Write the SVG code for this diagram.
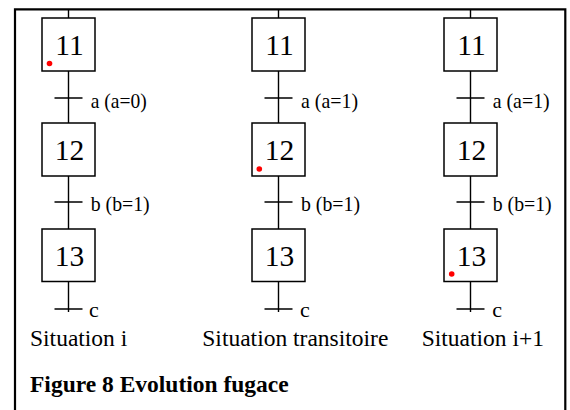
<svg xmlns="http://www.w3.org/2000/svg" width="570" height="410" viewBox="0 0 570 410">
<style>
.box{fill:#fff;stroke:#000;stroke-width:1.5}
.ln{stroke:#000;stroke-width:1.4;fill:none}
.num{font-family:"Liberation Serif","Times New Roman",serif;font-size:29.5px;text-anchor:middle;fill:#000}
.lbl{font-family:"Liberation Serif","Times New Roman",serif;font-size:22px;fill:#000}
.cap{font-family:"Liberation Serif","Times New Roman",serif;font-size:23.5px;fill:#000}
.title{font-family:"Liberation Serif","Times New Roman",serif;font-size:23.5px;font-weight:bold;fill:#000}
.dot{fill:#ff0000}
</style>
<rect width="570" height="410" fill="#fff"/>
<path d="M15,412 V9.3 H565.3 V412" fill="none" stroke="#000" stroke-width="2.2"/>
<g id="connectors">
<path class="ln" d="M68.5,9 V18 M68.5,71 V123 M68.5,176 V229 M68.5,281.5 V312 M54.5,98 H82.5 M54.5,202 H82.5 M54.5,309 H82.5"/>
<path class="ln" d="M278.5,9 V18 M278.5,71 V123 M278.5,176 V229 M278.5,281.5 V312 M264.5,98 H292.5 M264.5,202 H292.5 M264.5,309 H292.5"/>
<path class="ln" d="M470.5,9 V18 M470.5,71 V123 M470.5,176 V229 M470.5,281.5 V312 M456.5,98 H484.5 M456.5,202 H484.5 M456.5,309 H484.5"/>
</g>
<g id="c1-11"><rect class="box" x="42" y="18" width="53" height="53"/><text class="num" x="69.5" y="55">11</text><circle class="dot" cx="49.5" cy="63.5" r="2.8"/></g>
<g id="c1-12"><rect class="box" x="42" y="123" width="53" height="53"/><text class="num" x="69.5" y="159.5">12</text></g>
<g id="c1-13"><rect class="box" x="42" y="229" width="53" height="52.5"/><text class="num" x="69.5" y="266">13</text></g>
<g id="c2-11"><rect class="box" x="252" y="18" width="53" height="53"/><text class="num" x="279.5" y="55">11</text></g>
<g id="c2-12"><rect class="box" x="252" y="123" width="53" height="53"/><text class="num" x="279.5" y="159.5">12</text><circle class="dot" cx="259.3" cy="169" r="2.8"/></g>
<g id="c2-13"><rect class="box" x="252" y="229" width="53" height="52.5"/><text class="num" x="279.5" y="266">13</text></g>
<g id="c3-11"><rect class="box" x="444" y="18" width="53" height="53"/><text class="num" x="471.5" y="55">11</text></g>
<g id="c3-12"><rect class="box" x="444" y="123" width="53" height="53"/><text class="num" x="471.5" y="159.5">12</text></g>
<g id="c3-13"><rect class="box" x="444" y="229" width="53" height="52.5"/><text class="num" x="471.5" y="266">13</text><circle class="dot" cx="451.7" cy="274" r="2.8"/></g>
<g id="labels">
<text class="lbl" x="90.7" y="108.3" textLength="56" lengthAdjust="spacingAndGlyphs">a (a=0)</text>
<text class="lbl" x="90.7" y="211" textLength="59" lengthAdjust="spacingAndGlyphs">b (b=1)</text>
<text class="lbl" x="89" y="317">c</text>
<text class="lbl" x="301" y="108.3" textLength="57" lengthAdjust="spacingAndGlyphs">a (a=1)</text>
<text class="lbl" x="301" y="211" textLength="59" lengthAdjust="spacingAndGlyphs">b (b=1)</text>
<text class="lbl" x="300" y="317">c</text>
<text class="lbl" x="492.7" y="108.3" textLength="57" lengthAdjust="spacingAndGlyphs">a (a=1)</text>
<text class="lbl" x="492.7" y="211" textLength="59" lengthAdjust="spacingAndGlyphs">b (b=1)</text>
<text class="lbl" x="492.3" y="317">c</text>
<text class="cap" x="30" y="346">Situation i</text>
<text class="cap" x="202.3" y="346">Situation transitoire</text>
<text class="cap" x="421.7" y="346">Situation i+1</text>
<text class="title" x="30" y="391.7">Figure 8 Evolution fugace</text>
</g>
</svg>
